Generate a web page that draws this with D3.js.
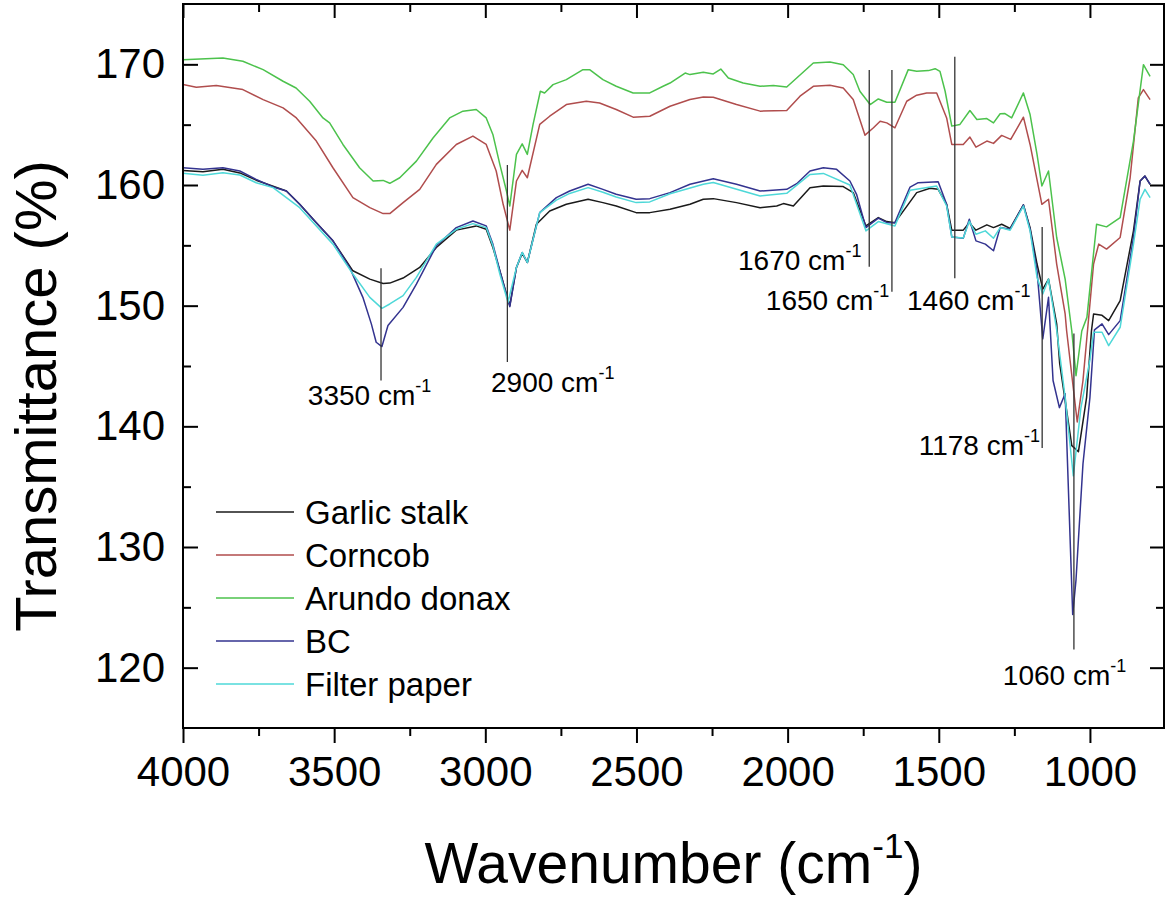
<!DOCTYPE html>
<html>
<head>
<meta charset="utf-8">
<script src="https://cdnjs.cloudflare.com/ajax/libs/d3/7.8.5/d3.min.js"></script>
<style>
body { margin: 0; background: #fff; }
svg text { font-family: "Liberation Sans", Arial, sans-serif; fill: #000; }
</style>
</head>
<body>
<div id="chart"></div>
<script>
// spectra: [wavenumber (cm-1), transmittance (%)]
var garlicStalk = [[4000,161.21],[3934,161.1],[3868,161.3],[3812,161.0],[3758,160.4],[3702,159.9],[3658,159.5],[3614,158.4],[3559,156.88],[3504,155.37],[3438,152.89],[3382,152.2],[3338,151.84],[3316,151.87],[3272,152.29],[3217,153.17],[3162,154.82],[3096,156.26],[3030,156.61],[2997,156.33],[2975,154.82],[2952,152.89],[2919,150.0],[2897,153.17],[2878,154.33],[2861,153.58],[2831,156.75],[2787,157.85],[2732,158.4],[2660,158.82],[2611,158.54],[2567,158.26],[2501,157.71],[2456,157.71],[2389,157.99],[2323,158.4],[2279,158.82],[2246,158.87],[2169,158.54],[2091,158.12],[2036,158.26],[2014,158.46],[1981,158.26],[1926,159.78],[1882,159.92],[1816,159.87],[1783,159.37],[1741,156.61],[1700,157.3],[1672,156.97],[1645,156.88],[1573,159.37],[1529,159.73],[1502,159.64],[1474,158.4],[1457,156.26],[1419,156.26],[1399,156.88],[1377,156.26],[1341,156.7],[1319,156.47],[1292,156.75],[1264,156.4],[1220,158.35],[1198,156.47],[1175,153.45],[1156,151.38],[1137,152.2],[1110,148.5],[1100,145.2],[1060,138.4],[1038,137.9],[1011,142.4],[995,147.9],[988,149.31],[960,149.2],[938,148.76],[900,150.41],[856,156.2],[834,160.33],[818,160.74],[801,160.06]];

var corncob = [[4000,168.32],[3956,168.1],[3890,168.24],[3802,167.91],[3735,167.08],[3669,166.39],[3625,165.56],[3559,163.64],[3504,161.43],[3438,158.95],[3382,158.12],[3338,157.63],[3316,157.63],[3272,158.54],[3217,159.64],[3162,161.71],[3096,163.36],[3041,164.05],[2997,163.36],[2964,161.16],[2941,158.4],[2919,156.26],[2897,160.33],[2878,161.21],[2861,160.6],[2820,165.02],[2787,165.7],[2732,166.67],[2666,166.94],[2622,166.8],[2567,166.26],[2511,165.62],[2456,165.7],[2389,166.53],[2323,167.08],[2279,167.3],[2246,167.27],[2169,166.67],[2091,166.12],[2003,166.17],[1959,167.36],[1915,168.18],[1860,168.26],[1816,168.04],[1783,167.08],[1744,164.13],[1716,164.74],[1694,165.29],[1672,165.15],[1645,164.74],[1606,166.94],[1573,167.44],[1540,167.63],[1507,167.63],[1474,165.56],[1457,163.36],[1419,163.36],[1397,163.97],[1377,163.14],[1341,163.64],[1319,163.45],[1292,164.11],[1262,163.78],[1220,165.62],[1198,163.36],[1159,158.4],[1137,158.82],[1110,153.45],[1082,149.31],[1077,147.9],[1042,140.36],[1023,143.8],[988,153.45],[971,155.1],[945,154.69],[900,155.65],[867,160.6],[840,167.22],[823,167.91],[801,167.08]];

var arundoDonax = [[4000,170.39],[3868,170.52],[3802,170.25],[3735,169.56],[3669,168.6],[3626,168.04],[3581,166.94],[3537,165.56],[3515,165.15],[3471,163.36],[3416,161.43],[3371,160.33],[3338,160.38],[3316,160.14],[3283,160.6],[3228,161.98],[3173,163.9],[3118,165.56],[3074,166.12],[3030,166.26],[2997,165.56],[2975,164.19],[2952,161.71],[2930,159.5],[2919,158.26],[2897,162.54],[2878,163.41],[2861,162.54],[2842,165.02],[2818,167.77],[2804,167.63],[2776,168.32],[2732,168.73],[2677,169.56],[2655,169.56],[2611,168.73],[2567,168.18],[2511,167.63],[2456,167.63],[2412,168.18],[2389,168.45],[2339,169.28],[2323,169.15],[2279,169.34],[2246,169.2],[2221,169.61],[2196,168.87],[2147,168.45],[2091,168.18],[2047,168.24],[2003,168.12],[1970,168.87],[1915,170.11],[1860,170.19],[1816,169.97],[1783,169.15],[1761,167.77],[1727,166.67],[1700,167.13],[1672,166.86],[1645,166.86],[1601,169.56],[1573,169.42],[1534,169.48],[1512,169.64],[1496,169.42],[1479,167.77],[1457,164.88],[1430,165.02],[1397,166.17],[1374,165.43],[1341,165.51],[1319,165.15],[1297,165.9],[1281,165.92],[1259,165.56],[1220,167.63],[1198,165.84],[1175,162.54],[1159,159.92],[1137,161.16],[1110,155.65],[1082,152.2],[1060,147.9],[1046,144.2],[1027,147.9],[1010,149.03],[978,156.75],[945,156.53],[900,157.3],[856,163.64],[823,169.97],[801,169.0]];

var bc = [[4000,161.43],[3934,161.3],[3868,161.43],[3812,161.16],[3758,160.47],[3702,159.83],[3658,159.5],[3614,158.4],[3559,156.88],[3504,155.37],[3449,153.17],[3405,150.69],[3377,148.49],[3361,146.97],[3342,146.61],[3322,148.35],[3272,149.86],[3228,151.79],[3162,154.96],[3096,156.47],[3041,157.02],[2997,156.61],[2975,155.1],[2952,152.89],[2919,149.92],[2897,153.17],[2878,154.41],[2861,153.58],[2820,157.71],[2765,158.95],[2721,159.5],[2660,160.06],[2611,159.64],[2567,159.23],[2501,158.82],[2456,158.87],[2389,159.37],[2323,160.06],[2246,160.52],[2169,160.06],[2091,159.5],[2003,159.64],[1970,160.11],[1926,161.16],[1882,161.43],[1838,161.3],[1794,160.33],[1772,159.23],[1741,156.47],[1700,157.25],[1672,156.88],[1645,156.88],[1595,159.83],[1568,160.19],[1502,160.27],[1474,158.4],[1457,155.7],[1419,155.59],[1399,157.16],[1377,155.37],[1346,155.1],[1319,154.55],[1297,156.47],[1264,156.33],[1220,158.35],[1198,156.33],[1175,152.89],[1156,147.25],[1137,150.69],[1122,143.8],[1101,141.55],[1082,142.7],[1057,124.4],[1046,127.3],[1023,136.9],[1000,142.4],[985,148.0],[960,148.49],[938,147.6],[900,148.76],[856,155.65],[834,160.33],[818,160.74],[801,160.06]];

var filterPaper = [[4000,160.98],[3934,160.8],[3868,161.02],[3812,160.83],[3758,160.19],[3702,159.78],[3614,158.12],[3504,155.1],[3438,152.62],[3382,150.69],[3342,149.78],[3316,150.14],[3272,150.83],[3228,152.34],[3162,155.1],[3096,156.33],[3041,156.8],[2997,156.47],[2975,154.96],[2952,152.62],[2925,150.28],[2897,153.17],[2878,154.41],[2861,153.58],[2820,157.71],[2765,158.75],[2721,159.3],[2660,159.78],[2611,159.4],[2567,159.0],[2501,158.54],[2456,158.6],[2389,159.28],[2279,160.06],[2246,160.2],[2091,159.09],[2003,159.31],[1926,160.88],[1882,160.96],[1794,160.0],[1741,156.2],[1700,156.97],[1645,156.61],[1595,159.56],[1507,159.92],[1474,158.26],[1457,155.7],[1419,155.6],[1399,157.0],[1377,155.92],[1346,156.2],[1319,155.59],[1297,156.47],[1264,156.25],[1220,158.26],[1198,156.2],[1175,152.34],[1156,150.97],[1137,152.2],[1110,148.0],[1082,142.4],[1055,135.9],[1030,141.5],[1000,145.5],[988,147.8],[960,147.8],[938,146.69],[900,148.21],[856,155.1],[834,158.82],[818,159.64],[801,158.95]];

var seriesNames = ["Garlic stalk", "Corncob", "Arundo donax", "BC", "Filter paper"];
var seriesData = [garlicStalk, corncob, arundoDonax, bc, filterPaper];
var colors = ["#1a1a1a", "#b04d4d", "#4cc24c", "#33338f", "#4ed8d8"];

var xTicks = [4000, 3500, 3000, 2500, 2000, 1500, 1000];
var yTicks = [120, 130, 140, 150, 160, 170];

// peak markers: wavenumber of the line, its top and bottom (%), label anchor (wavenumber, %)
var peakLabels = ["3350", "2900", "1670", "1650", "1460", "1178", "1060"];
var peakWn     = [3345, 2927, 1730, 1655, 1447, 1158, 1053];
var peakTop    = [153.1, 161.66, 169.53, 169.53, 170.63, 156.52, 147.7];
var peakBottom = [143.8, 145.33, 153.23, 151.16, 152.27, 138.2, 121.5];
var labelWn    = [3587, 2981, 2164, 2072, 1605, 1165, 1288];
var labelT     = [141.77, 142.85, 152.96, 149.64, 149.64, 137.63, 118.56];

var W = 1170, H = 897;
var plotL = 183, plotR = 1164, plotT = 4, plotB = 728;

var svg = d3.select("#chart").append("svg").attr("width", W).attr("height", H);

var x = d3.scaleLinear().domain([4000, 755]).range([plotL, plotR]);
var y = d3.scaleLinear().domain([115, 175]).range([plotB, plotT]);

var xMinor = d3.range(3750, 750, -500);
var yMinor = d3.range(125, 175, 10);

svg.append("clipPath").attr("id", "plot")
    .append("rect").attr("x", plotL).attr("y", plotT)
    .attr("width", plotR - plotL).attr("height", plotB - plotT);

// spectra
var line = d3.line().x(function (d) { return x(d[0]); }).y(function (d) { return y(d[1]); });
svg.append("g").attr("clip-path", "url(#plot)")
    .selectAll("path")
    .data(seriesData)
    .enter().append("path")
    .attr("d", line)
    .attr("fill", "none")
    .attr("stroke", function (d, i) { return colors[i]; })
    .attr("stroke-width", 1.5)
    .attr("stroke-linejoin", "round");

// axes
function styleAxis(g) {
    g.select(".domain").remove();
    g.selectAll(".tick line").attr("stroke", "#000").attr("stroke-width", 2);
    g.selectAll(".tick text").attr("font-size", 42).attr("font-family", "Liberation Sans, Arial, sans-serif");
}

svg.append("g").attr("transform", "translate(0," + plotB + ")")
    .call(d3.axisBottom(x).tickValues(xTicks).tickSize(15).tickPadding(13).tickFormat(d3.format("d")))
    .call(styleAxis);
svg.append("g").attr("transform", "translate(0," + plotB + ")")
    .call(d3.axisBottom(x).tickValues(xMinor).tickSize(8).tickFormat(""))
    .call(styleAxis);
svg.append("g").attr("transform", "translate(0," + plotT + ")")
    .call(d3.axisTop(x).tickValues(xTicks).tickSize(-14).tickFormat(""))
    .call(styleAxis);
svg.append("g").attr("transform", "translate(0," + plotT + ")")
    .call(d3.axisTop(x).tickValues(xMinor).tickSize(-8).tickFormat(""))
    .call(styleAxis);

svg.append("g").attr("transform", "translate(" + plotL + ",0)")
    .call(d3.axisLeft(y).tickValues(yTicks).tickSize(-15).tickPadding(18).tickFormat(d3.format("d")))
    .call(styleAxis);
svg.append("g").attr("transform", "translate(" + plotL + ",0)")
    .call(d3.axisLeft(y).tickValues(yMinor).tickSize(-8).tickFormat(""))
    .call(styleAxis);
svg.append("g").attr("transform", "translate(" + plotR + ",0)")
    .call(d3.axisRight(y).tickValues(yTicks).tickSize(-14).tickFormat(""))
    .call(styleAxis);
svg.append("g").attr("transform", "translate(" + plotR + ",0)")
    .call(d3.axisRight(y).tickValues(yMinor).tickSize(-8).tickFormat(""))
    .call(styleAxis);

// frame
svg.append("rect")
    .attr("x", plotL).attr("y", plotT)
    .attr("width", plotR - plotL).attr("height", plotB - plotT)
    .attr("fill", "none").attr("stroke", "#000").attr("stroke-width", 2);

// peak markers
var peaks = svg.append("g");
peakLabels.forEach(function (p, i) {
    peaks.append("line")
        .attr("x1", x(peakWn[i])).attr("x2", x(peakWn[i]))
        .attr("y1", y(peakTop[i])).attr("y2", y(peakBottom[i]))
        .attr("stroke", "#333").attr("stroke-width", 1.3);
    var t = peaks.append("text")
        .attr("x", x(labelWn[i])).attr("y", y(labelT[i]))
        .attr("font-size", 28)
        .attr("text-anchor", p === "1178" ? "end" : "start");
    t.append("tspan").text(p + " cm");
    t.append("tspan").attr("font-size", 18).attr("dy", -13).text("-1");
});

// legend
var legend = svg.append("g");
seriesNames.forEach(function (name, i) {
    var ly = 512 + i * 43;
    legend.append("line")
        .attr("x1", 216).attr("x2", 294).attr("y1", ly).attr("y2", ly)
        .attr("stroke", colors[i]).attr("stroke-width", 1.5);
    legend.append("text")
        .attr("x", 305).attr("y", ly + 12)
        .attr("font-size", 33)
        .text(name);
});

// axis titles
var xt = svg.append("text")
    .attr("x", (plotL + plotR) / 2).attr("y", 883)
    .attr("text-anchor", "middle")
    .attr("font-size", 57);
xt.append("tspan").text("Wavenumber (cm");
xt.append("tspan").attr("font-size", 35).attr("dy", -25).text("-1");
xt.append("tspan").attr("dy", 25).text(")");

svg.append("text")
    .attr("transform", "translate(56," + 396 + ") rotate(-90)")
    .attr("text-anchor", "middle")
    .attr("font-size", 58)
    .text("Transmittance (%)");
</script>
</body>
</html>
